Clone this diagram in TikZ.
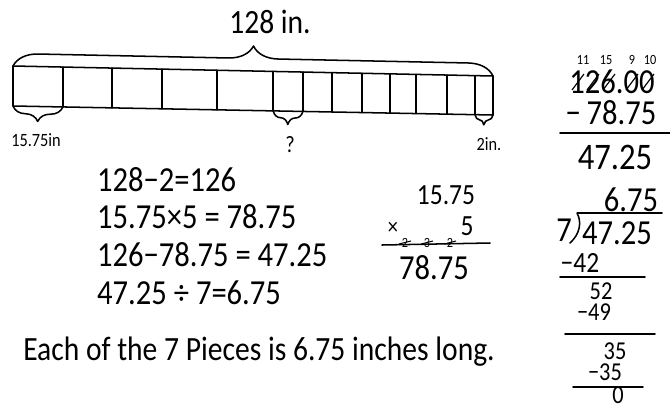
\documentclass[tikz,border=0pt]{standalone}
\usepackage{fontspec}
\setmainfont{Carlito}[FakeStretch=0.87]
\usetikzlibrary{calc, decorations.pathreplacing}

\tikzset{
  ink/.style={line width=1.3pt, line cap=round, line join=round},
  hand/.style={inner sep=0pt, font=\fontsize{30}{32}\selectfont},
  handmd/.style={inner sep=0pt, font=\fontsize{25}{27}\selectfont},
  handrm/.style={inner sep=0pt, font=\fontsize{22}{24}\selectfont},
  handsm/.style={inner sep=0pt, font=\fontsize{16}{18}\selectfont},
  handxs/.style={inner sep=0pt, font=\fontsize{12}{13}\selectfont},
  curly/.style={ink, decorate, decoration={brace, amplitude=#1}},
  curly/.default=0.4cm,
  lowcurly/.style={curly=#1, decoration={mirror}},
  lowcurly/.default=0.35cm,
}

\begin{document}
\begin{tikzpicture}[x=0.03cm, y=-0.03cm]
    \useasboundingbox (0,0) rectangle (670,406);

    % tape
    \coordinate (tl) at (13,66);
    \coordinate (tr) at (493,76);
    \coordinate (bl) at (13,106);
    \coordinate (br) at (493,115);
    \draw[ink] (tl) -- (tr) -- (br) -- (bl) -- cycle;
    \foreach \t [count=\i] in {0.104,0.206,0.310,0.425,0.542,0.604,0.665,0.727,0.785,0.840,0.904,0.9625}{
        \coordinate (u\i) at ($(tl)!\t!(tr)$);
        \coordinate (d\i) at ($(bl)!\t!(br)$);
        \draw[ink] (u\i) -- (d\i);
    }

    % braces and labels
    \draw[curly=0.75cm] (tl) -- (tr);
    \node[hand, font=\fontsize{29}{31}\selectfont] (total) at (270,22) {128 in.};
    \draw[lowcurly=0.45cm] (bl) -- (d1);
    \draw[lowcurly=0.4cm] (d5) -- (d6);
    \draw[lowcurly=0.3cm] (d12) -- (br);
    \node[handsm] (piece) at (36,140) {15.75in};
    \node[handsm, font=\fontsize{20}{22}\selectfont] (unknown) at (290,145) {?};
    \node[handsm] (rest) at (489,144) {2in.};

    % equations
    \node[hand, anchor=west] (eqa) at (97,180) {128−2=126};
    \node[hand, anchor=west] (eqb) at (97,217) {15.75×5 = 78.75};
    \node[hand, anchor=west] (eqc) at (97,255) {126−78.75 = 47.25};
    \node[hand, anchor=west] (eqd) at (97,293) {47.25 ÷ 7=6.75};
    \node[hand, font=\fontsize{29}{31}\selectfont] (answer) at (259,352)
        {Each of the 7 Pieces is 6.75 inches long.};

    % multiplication
    \node[handmd] (mtop) at (446,195) {15.75};
    \node[handsm, font=\fontsize{20}{22}\selectfont] (mx) at (393,228) {×};
    \node[handmd] (mfive) at (467,226) {5};
    \foreach \x/\c in {405/2,427/3,450/2}{
        \node[handxs] at (\x,243) {\c};
        \draw[line width=0.9pt] (\x-6,244) -- (\x+6,241);
    }
    \draw[ink] (382,245) -- (490,243);
    \node[hand] (mres) at (434,268) {78.75};

    % subtraction
    \foreach \x/\c in {583/11,606/15,632/9,650/10}
        \node[handxs] at (\x,60) {\c};
    \node[hand] (sa) at (612,82) {126.00};
    \foreach \x in {578,593,609,632,648}
        \draw[line width=1pt] (\x-6,90) -- (\x+6,74);
    \node[hand] (sb) at (611,113) {−\,78.75};
    \draw[ink] (560,133) -- (670,133);
    \node[hand, font=\fontsize{32}{34}\selectfont] (sres) at (615,157) {47.25};

    % long division
    \node[hand] (quot) at (631,200) {6.75};
    \coordinate (dv) at (577,213);
    \draw[ink] (662,213) -- (dv) .. controls (582,222) and (580,234) .. (570,243);
    \node[hand] (divisor) at (564,230) {7};
    \node[hand] (dividend) at (617,233) {47.25};
    \node[handmd] (ra) at (580,263) {−42};
    \draw[ink] (560,277) -- (645,277);
    \node[handrm] (rb) at (601,291) {52};
    \node[handrm] (rc) at (594,312) {−49};
    \draw[ink] (565,334) -- (655,334);
    \node[handrm] (rd) at (615,351) {35};
    \node[handrm] (re) at (605,372) {−35};
    \draw[ink] (573,387) -- (643,387);
    \node[handrm] (rf) at (618,395) {0};
\end{tikzpicture}
\end{document}
